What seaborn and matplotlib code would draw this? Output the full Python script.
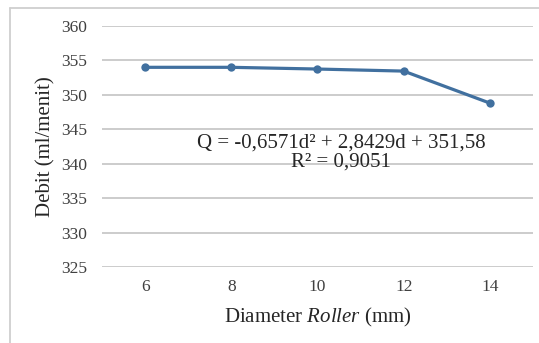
import pandas as pd
import matplotlib
matplotlib.use("Agg")
import matplotlib.pyplot as plt
import seaborn as sns
from matplotlib.lines import Line2D

# Data
diameter = ["6", "8", "10", "12", "14"]
debit = [354.0, 354.0, 353.75, 353.45, 348.8]
y_ticks = [325, 330, 335, 340, 345, 350, 355, 360]

df = pd.DataFrame({"Diameter": diameter, "Debit": debit})

sns.set_theme(style="white")
plt.rcParams["font.family"] = ["Liberation Serif", "DejaVu Serif"]
plt.rcParams["mathtext.fontset"] = "custom"
plt.rcParams["mathtext.rm"] = "Liberation Serif"
plt.rcParams["mathtext.it"] = "Liberation Serif:italic"

fig = plt.figure(figsize=(5.39, 3.43), dpi=100)
ax = fig.add_axes([0.1892, 0.2216, 0.7997, 0.7026])

sns.lineplot(data=df, x="Diameter", y="Debit", ax=ax, color="#41709F",
             linewidth=2.3, marker="o", markersize=6, markeredgewidth=0,
             sort=False)

ax.set_ylim(325, 360)
ax.set_xlim(-0.5, 4.5)
ax.set_yticks(y_ticks)
ax.set_yticklabels([str(t) for t in y_ticks])
ax.grid(axis="y", color="#BFBFBF", linewidth=1.1)
ax.set_axisbelow(True)
for s in ax.spines.values():
    s.set_visible(False)
ax.tick_params(axis="both", length=0, labelsize=12.5, colors="#404040")
ax.tick_params(axis="y", pad=11)
ax.tick_params(axis="x", pad=9)

ax.set_ylabel("Debit (ml/menit)", fontsize=15, color="#262626")
ax.yaxis.set_label_coords(-0.109, 0.5)
ax.set_xlabel(r"Diameter $\mathit{Roller}$ (mm)", fontsize=15, color="#262626")
ax.xaxis.set_label_coords(0.5, -0.162)

ax.text(0.5545, 0.475, "Q = -0,6571d\u00b2 + 2,8429d + 351,58\nR\u00b2 = 0,9051",
        transform=ax.transAxes, ha="center", va="center", multialignment="center",
        fontsize=15, color="#262626", linespacing=1.0)

# light frame of the chart area (top and left edge)
fig.add_artist(Line2D([10 / 539, 10 / 539], [0, 1 - 8 / 343], transform=fig.transFigure,
                      color="#CFCFCF", linewidth=1.3))
fig.add_artist(Line2D([10 / 539, 1], [1 - 8 / 343, 1 - 8 / 343], transform=fig.transFigure,
                      color="#CFCFCF", linewidth=1.3))

fig.savefig("out.png", dpi=100)
